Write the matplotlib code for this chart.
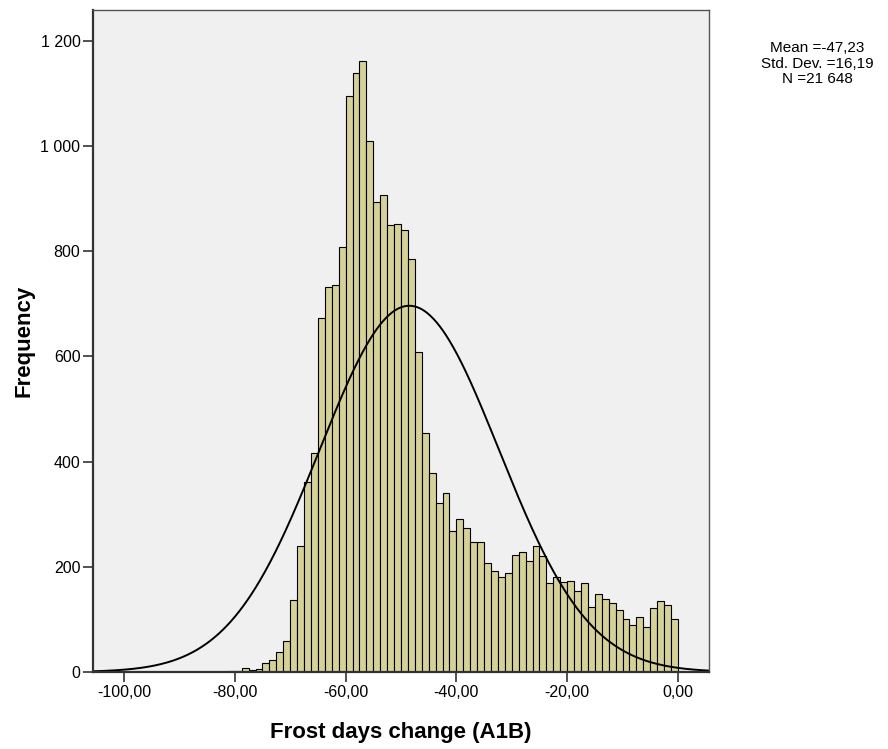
import numpy as np
import matplotlib
matplotlib.use('Agg')
import matplotlib.pyplot as plt
from matplotlib.ticker import FuncFormatter

plt.rcParams['font.family'] = ['Liberation Sans', 'DejaVu Sans']

# histogram bins: 1.25 days wide, first bin starts at -81.25, last ends at 0
bin_start = -81.25
bin_width = 1.25
counts = [1, 2, 8, 4, 5, 17, 23, 38, 58, 136,
          239, 362, 417, 673, 731, 736, 807, 1095, 1139, 1162,
          1009, 894, 906, 850, 852, 840, 785, 608, 454, 379,
          321, 340, 268, 291, 274, 247, 247, 208, 192, 180,
          189, 223, 228, 211, 240, 220, 169, 180, 171, 173,
          154, 170, 123, 148, 139, 132, 117, 101, 89, 104,
          86, 122, 134, 128, 101]

# summary shown next to the chart
mean = -47.23
std_dev = 16.19
n_total = 21648

# normal curve as it sits in the picture (centre / peak)
curve_center = -48.5
curve_peak = 696

BAR_COLOR = '#D6D199'
BG_COLOR = '#F0F0F0'


def fmt_x(v, pos):
    return '{:.2f}'.format(v).replace('.', ',')


def fmt_y(v, pos):
    return '{:,}'.format(int(round(v))).replace(',', ' ')


fig = plt.figure(figsize=(8.88, 7.49), dpi=100)
ax = fig.add_axes([0.1047, 0.1028, 0.6937, 0.8838])
ax.set_facecolor(BG_COLOR)

edges = bin_start + bin_width * np.arange(len(counts))
ax.bar(edges, counts, width=bin_width, align='edge',
       color=BAR_COLOR, edgecolor='black', linewidth=0.8)

xs = np.linspace(-106, 6, 600)
curve = curve_peak * np.exp(-0.5 * ((xs - curve_center) / std_dev) ** 2)
ax.plot(xs, curve, color='black', linewidth=1.4)

ax.set_xlim(-105.6, 5.6)
ax.set_ylim(0, 1258)
ax.set_xticks(np.arange(-100, 1, 20))
ax.set_yticks(np.arange(0, 1201, 200))
ax.xaxis.set_major_formatter(FuncFormatter(fmt_x))
ax.yaxis.set_major_formatter(FuncFormatter(fmt_y))
ax.tick_params(direction='out', length=7, width=1.2, labelsize=11.5,
               color='#333333', pad=2)

for side in ['top', 'right']:
    ax.spines[side].set_color('#555555')
    ax.spines[side].set_linewidth(1.0)
for side in ['left', 'bottom']:
    ax.spines[side].set_color('#333333')
    ax.spines[side].set_linewidth(1.6)

ax.set_xlabel('Frost days change (A1B)', fontsize=16, fontweight='bold',
              labelpad=16)
ax.set_ylabel('Frequency', fontsize=16, fontweight='bold', labelpad=4)

stats = 'Mean ={}\nStd. Dev. ={}\nN ={}'.format(
    fmt_x(mean, None), fmt_x(std_dev, None), fmt_y(n_total, None))
fig.text(0.920, 0.945, stats, ha='center', va='top',
         fontsize=11, linespacing=1.15)

plt.savefig('out.png', dpi=100)
